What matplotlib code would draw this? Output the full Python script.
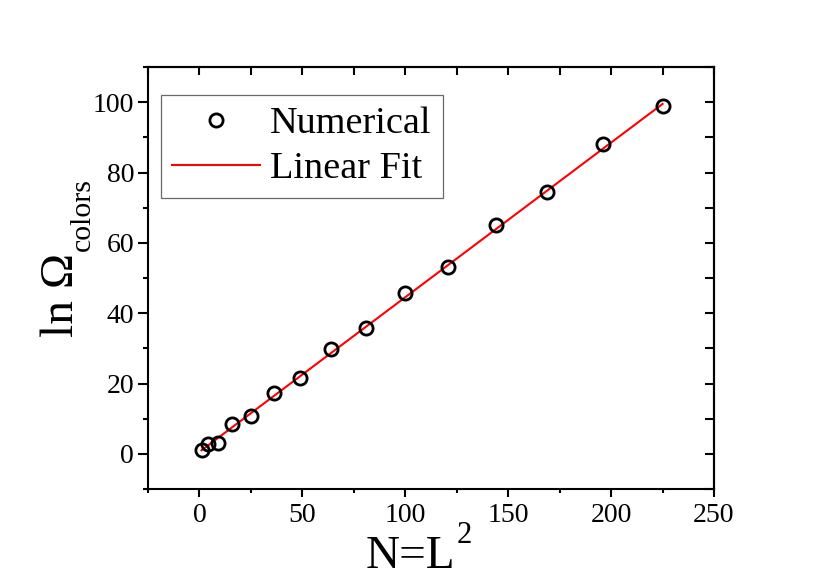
import numpy as np
import matplotlib
matplotlib.use("Agg")
import matplotlib.pyplot as plt
from matplotlib.ticker import MultipleLocator

plt.rcParams['font.family'] = ['Liberation Serif', 'DejaVu Serif']

# data
N_values = [1, 4, 9, 16, 25, 36, 49, 64, 81, 100, 121, 144, 169, 196, 225]
ln_omega = [1.0, 2.9, 3.2, 8.4, 10.7, 17.2, 21.5, 29.8, 35.8, 45.8, 53.2, 65.2, 74.5, 88.2, 99.0]

fit_x = [1, 225]
fit_y = [1.0, 99.5]

x_ticks = [0, 50, 100, 150, 200, 250]
y_ticks = [0, 20, 40, 60, 80, 100]

W, H = 830, 587
fig = plt.figure(figsize=(W / 100, H / 100), dpi=100)
ax = fig.add_axes([148 / W, 1 - 489 / H, (714 - 148) / W, (489 - 67) / H])

ax.plot(N_values, ln_omega, 'o', mfc='none', mec='black', mew=2.0, ms=9.5,
        label='Numerical', zorder=3)
ax.plot(fit_x, fit_y, '-', color='red', lw=1.5, label='Linear Fit', zorder=2)

ax.set_xlim(-25, 250)
ax.set_ylim(-10, 110)
ax.set_xticks(x_ticks)
ax.set_yticks(y_ticks)
ax.xaxis.set_minor_locator(MultipleLocator(25))
ax.yaxis.set_minor_locator(MultipleLocator(10))

for s in ax.spines.values():
    s.set_linewidth(1.5)

ax.tick_params(axis='both', which='both', direction='out', width=1.5, labelsize=20)
ax.tick_params(axis='x', which='major', length=5.8, pad=4)
ax.tick_params(axis='x', which='minor', length=3.2)
ax.tick_params(axis='y', which='major', length=7.0, pad=3)
ax.tick_params(axis='y', which='minor', length=3.6)

# mirrored ticks inside on top/right
secx = ax.secondary_xaxis('top')
secx.set_xticks(x_ticks)
secx.xaxis.set_minor_locator(MultipleLocator(25))
secx.tick_params(which='both', direction='in', length=5.6, width=1.5, labeltop=False)
secx.set_xticklabels([])
secy = ax.secondary_yaxis('right')
secy.set_yticks(y_ticks)
secy.yaxis.set_minor_locator(MultipleLocator(10))
secy.tick_params(which='both', direction='in', length=6.5, width=1.5, labelright=False)
secy.set_yticklabels([])
for sa in (secx, secy):
    for s in sa.spines.values():
        s.set_linewidth(1.5)

# x label: N=L^2
fig.text(366 / W, 1 - 568 / H, 'N=L', fontsize=34, ha='left', va='baseline')
fig.text(457 / W, 1 - 543 / H, '2', fontsize=22, ha='left', va='baseline')

# y label: ln Omega_colors
fig.text(72.7 / W, 1 - 337 / H, 'ln \u03a9', fontsize=34, rotation=90,
         rotation_mode='anchor', ha='left', va='baseline')
fig.text(90 / W, 1 - 251 / H, 'colors', fontsize=21.5, rotation=90,
         rotation_mode='anchor', ha='left', va='baseline')

leg = ax.legend(loc='upper left', bbox_to_anchor=(13 / 566, 1 - 28 / 422), fontsize=27.5,
                frameon=True, fancybox=False, edgecolor='#444444', handlelength=2.3,
                handletextpad=0.25, borderpad=0.3, labelspacing=0.27, borderaxespad=0)
leg.get_frame().set_linewidth(0.9)

fig.savefig('out.png', dpi=100)
